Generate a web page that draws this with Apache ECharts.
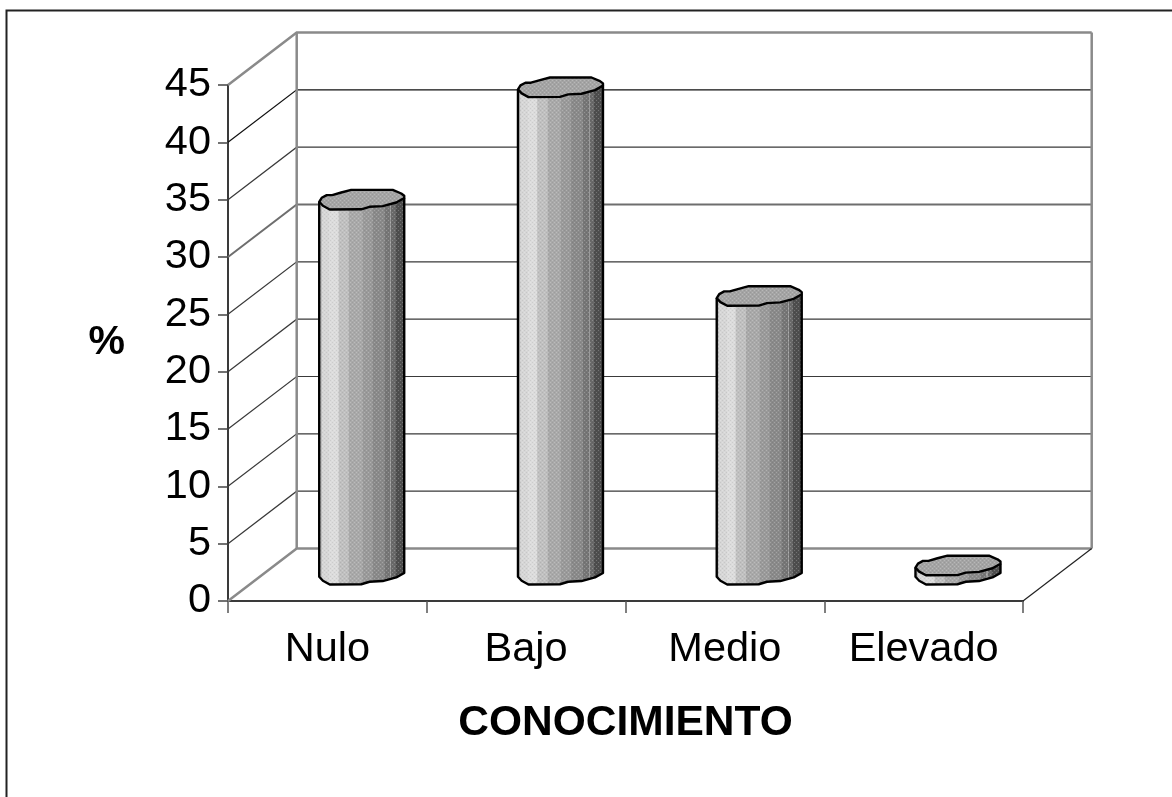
<!DOCTYPE html>
<html>
<head>
<meta charset="utf-8">
<style>html,body{margin:0;padding:0;background:#fff}#chart{width:1172px;height:797px}</style>
<script src="https://cdn.jsdelivr.net/npm/echarts@6/dist/echarts.min.js"></script>
</head>
<body>
<div id="chart"></div>
<script>
// Knowledge level categories and their percentages
const categories = ['Nulo', 'Bajo', 'Medio', 'Elevado'];
const percentages = [32.7, 42.5, 24.3, 0.8];
const percentTicks = [0, 5, 10, 15, 20, 25, 30, 35, 40, 45];

// Oblique projection used for the pseudo-3D box (pixels from front to back plane)
const DEPTH_X = 68.7;
const DEPTH_Y = -52.5;
const FONT = '"Liberation Sans", Arial, sans-serif';

// Outline of a cylinder cap around its centre, deliberately slightly uneven
const CAP_OUTLINE = [
  [-42.5, 2], [-40, -2], [-35, -4.7], [-29.5, -4.7], [-20.5, -7.3], [-10.5, -9.9],
  [31, -9.9], [39.5, -6.3], [42.5, -4], [42.5, -1.8], [34.5, 2.7], [21, 6.3],
  [7.8, 7], [-0.5, 9.5], [-32, 9.7], [-38.8, 6]
];
// Front half of the cap, running left to right, reused for the cylinder foot
const FRONT_EDGE = [
  [-42.5, 2], [-38.8, 6], [-32, 9.7], [-0.5, 9.5], [7.8, 7], [21, 6.3], [34.5, 2.7], [42.5, -1.8]
];

// Hard-edged vertical shading bands across the cylinder
const bandStops = [
  ['#bdbdbd', 0], ['#d6d6d6', 0.03], ['#dcdcdc', 0.12], ['#d2d2d2', 0.22],
  ['#c0c0c0', 0.23], ['#bababa', 0.34], ['#a9a9a9', 0.35], ['#a6a6a6', 0.5],
  ['#9a9a9a', 0.51], ['#969696', 0.62], ['#8a8a8a', 0.63], ['#848484', 0.76],
  ['#767676', 0.77], ['#727272', 0.83], ['#9a9a9a', 0.835], ['#6a6a6a', 0.85],
  ['#666666', 0.89], ['#4e4e4e', 0.9], ['#484848', 1]
];
const bodyFill = {
  type: 'linear', x: 0, y: 0, x2: 1, y2: 0,
  colorStops: bandStops.flatMap(function (s, i) {
    const next = bandStops[i + 1];
    return next ? [{ offset: s[1], color: s[0] }, { offset: next[1] - 0.001, color: s[0] }]
                : [{ offset: s[1], color: s[0] }];
  })
};

// Small halftone tile laid over the fills
function halftoneTile() {
  const c = document.createElement('canvas');
  c.width = 4; c.height = 4;
  const g = c.getContext('2d');
  g.fillStyle = 'rgba(255,255,255,0.22)';
  g.fillRect(0, 0, 1, 1); g.fillRect(2, 2, 1, 1);
  g.fillStyle = 'rgba(0,0,0,0.07)';
  g.fillRect(2, 0, 1, 1); g.fillRect(0, 2, 1, 1);
  return c;
}
const halftone = { image: halftoneTile(), repeat: 'repeat' };

// Weight of each back-wall rule
function ruleStyle(v) {
  if (v === 45 || v === 0) return { stroke: '#8a8a8a', lineWidth: 2.5, fill: 'none' };
  if (v === 30) return { stroke: '#6e6e6e', lineWidth: 2, fill: 'none' };
  if (v === 40) return { stroke: '#111', lineWidth: 1.2, fill: 'none' };
  return { stroke: '#3a3a3a', lineWidth: 1.2, fill: 'none' };
}

function plotEdges(api) {
  const band = api.size([1, 0])[0];
  return {
    left: api.coord([0, 0])[0] - band / 2,
    right: api.coord([categories.length - 1, 0])[0] + band / 2
  };
}

// One rule per tick: along the side wall, then across the back wall
function renderRule(params, api) {
  const v = api.value(1);
  const e = plotEdges(api);
  const y = api.coord([0, v])[1];
  return {
    type: 'polyline',
    shape: { points: [[e.left, y], [e.left + DEPTH_X, y + DEPTH_Y], [e.right + DEPTH_X, y + DEPTH_Y]] },
    style: ruleStyle(v),
    silent: true
  };
}

// Wall corners and the right edge of the floor
function renderFrame(params, api) {
  const e = plotEdges(api);
  const y0 = api.coord([0, 0])[1];
  const yTop = api.coord([0, percentTicks[percentTicks.length - 1]])[1];
  const gray = { stroke: '#8a8a8a', lineWidth: 2.5, fill: 'none' };
  return {
    type: 'group',
    silent: true,
    children: [
      { type: 'line', shape: { x1: e.left + DEPTH_X, y1: yTop + DEPTH_Y, x2: e.left + DEPTH_X, y2: y0 + DEPTH_Y }, style: gray },
      { type: 'line', shape: { x1: e.right + DEPTH_X, y1: yTop + DEPTH_Y, x2: e.right + DEPTH_X, y2: y0 + DEPTH_Y }, style: gray },
      { type: 'line', shape: { x1: e.right, y1: y0, x2: e.right + DEPTH_X, y2: y0 + DEPTH_Y }, style: { stroke: '#222', lineWidth: 1.2 } }
    ]
  };
}

// Cylinder standing at mid depth of the floor, its cap at the value's height
function renderCylinder(params, api) {
  const top = api.coord([api.value(0), api.value(1)]);
  const foot = api.coord([api.value(0), 0]);
  const cx = top[0] + DEPTH_X / 2;
  const cy = top[1] + DEPTH_Y / 2;
  const h = foot[1] - top[1];
  const at = function (p, dy) { return [cx + p[0], cy + p[1] + dy]; };

  const side = [at(FRONT_EDGE[0], 0)]
    .concat(FRONT_EDGE.map(function (p) { return at(p, h); }))
    .concat([at(FRONT_EDGE[FRONT_EDGE.length - 1], 0)]);
  const cap = CAP_OUTLINE.map(function (p) { return at(p, 0); });
  const outline = { stroke: '#000', lineWidth: 2.4, lineJoin: 'round', fill: 'none' };

  return {
    type: 'group',
    silent: true,
    children: [
      { type: 'polygon', shape: { points: side }, style: { fill: bodyFill } },
      { type: 'polygon', shape: { points: side }, style: { fill: halftone } },
      { type: 'polyline', shape: { points: side }, style: outline },
      { type: 'polygon', shape: { points: cap }, style: { fill: '#a4a4a4' } },
      { type: 'polygon', shape: { points: cap }, style: { fill: halftone } },
      { type: 'polygon', shape: { points: cap }, style: outline }
    ]
  };
}

const chart = echarts.init(document.getElementById('chart'), null, { renderer: 'canvas' });
chart.setOption({
  animation: false,
  backgroundColor: '#fff',
  grid: { left: 228, top: 85, width: 795, height: 516 },
  graphic: [{
    type: 'polyline',
    silent: true,
    shape: { points: [[6.5, 797], [6.5, 10.5], [1172, 10.5]] },
    style: { stroke: '#222', lineWidth: 2, fill: 'none' }
  }],
  xAxis: {
    type: 'category',
    data: categories,
    boundaryGap: true,
    name: 'CONOCIMIENTO',
    nameLocation: 'middle',
    nameGap: 101,
    nameTextStyle: { fontFamily: FONT, fontSize: 42.5, fontWeight: 'bold', color: '#000' },
    axisLine: { lineStyle: { color: '#3a3a3a', width: 2 } },
    axisTick: { show: true, length: 12, alignWithLabel: false, lineStyle: { color: '#555', width: 1.5 } },
    axisLabel: { fontFamily: FONT, fontSize: 41.5, color: '#000', margin: 28, interval: 0 },
    splitLine: { show: false }
  },
  yAxis: {
    type: 'value',
    min: 0,
    max: 45,
    interval: 5,
    name: '%',
    nameLocation: 'middle',
    nameRotate: 0,
    nameGap: 103,
    nameTextStyle: { fontFamily: FONT, fontSize: 41, fontWeight: 'bold', color: '#000' },
    axisLine: { show: true, lineStyle: { color: '#3a3a3a', width: 2 } },
    axisTick: { show: true, length: 10, lineStyle: { color: '#444', width: 1.5 } },
    axisLabel: { fontFamily: FONT, fontSize: 41.5, color: '#000', margin: 17 },
    splitLine: { show: false }
  },
  series: [
    { type: 'custom', name: 'rules', z: 1, renderItem: renderRule, encode: { x: 0, y: 1 },
      data: percentTicks.map(function (v) { return [0, v]; }) },
    { type: 'custom', name: 'walls', z: 2, renderItem: renderFrame, encode: { x: 0, y: 1 }, data: [[0, 0]] },
    { type: 'custom', name: '%', z: 3, renderItem: renderCylinder, encode: { x: 0, y: 1 },
      data: percentages.map(function (v, i) { return [i, v]; }) }
  ]
});
</script>
</body>
</html>
